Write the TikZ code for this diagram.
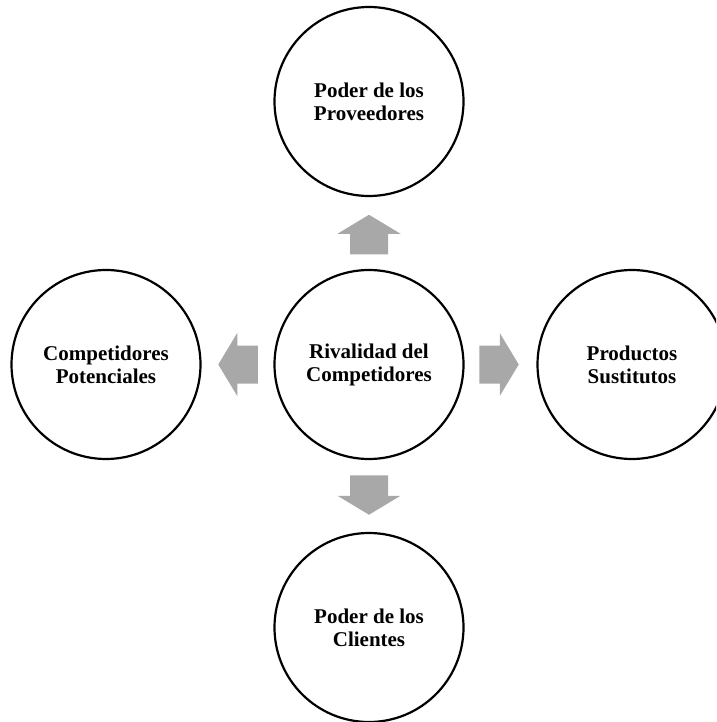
\documentclass[tikz,border=0pt]{standalone}
\usepackage{fontspec}
\setmainfont{Liberation Serif}
\begin{document}
\begin{tikzpicture}[x=1pt,y=-1pt,
  force/.style={circle,draw=black,line width=2.2pt,fill=white,
    minimum size=189pt,inner sep=0pt,align=center,
    font=\fontsize{21pt}{23pt}\selectfont\bfseries},
  blockarrow/.pic={
    \fill[arrowgray] (-19.75,-19) -- (0.75,-19) -- (0.75,-31.5) -- (19.75,0)
      -- (0.75,31.5) -- (0.75,19) -- (-19.75,19) -- cycle;
  }]
  \definecolor{arrowgray}{RGB}{168,168,168}
  \useasboundingbox (0,0) rectangle (716,722);
  \clip (0,0) rectangle (716,722);

  % five forces
  \node[force] (rival) at (369,364.5) {Rivalidad del\\Competidores};
  \node[force] (prov)  at (369,101.5) {Poder de los\\Proveedores};
  \node[force] (comp)  at (106,364.5) {Competidores\\Potenciales};
  \node[force] (sust)  at (632,364.5) {Productos\\Sustitutos};
  \node[force] (cli)   at (369,627.5) {Poder de los\\Clientes};

  % block arrows pointing outward from the centre
  \pic[rotate=90]  at (369,234.5) {blockarrow};
  \pic[rotate=180] at (238,364.5) {blockarrow};
  \pic             at (499,364.5) {blockarrow};
  \pic[rotate=-90] at (369,495)   {blockarrow};
\end{tikzpicture}
\end{document}
